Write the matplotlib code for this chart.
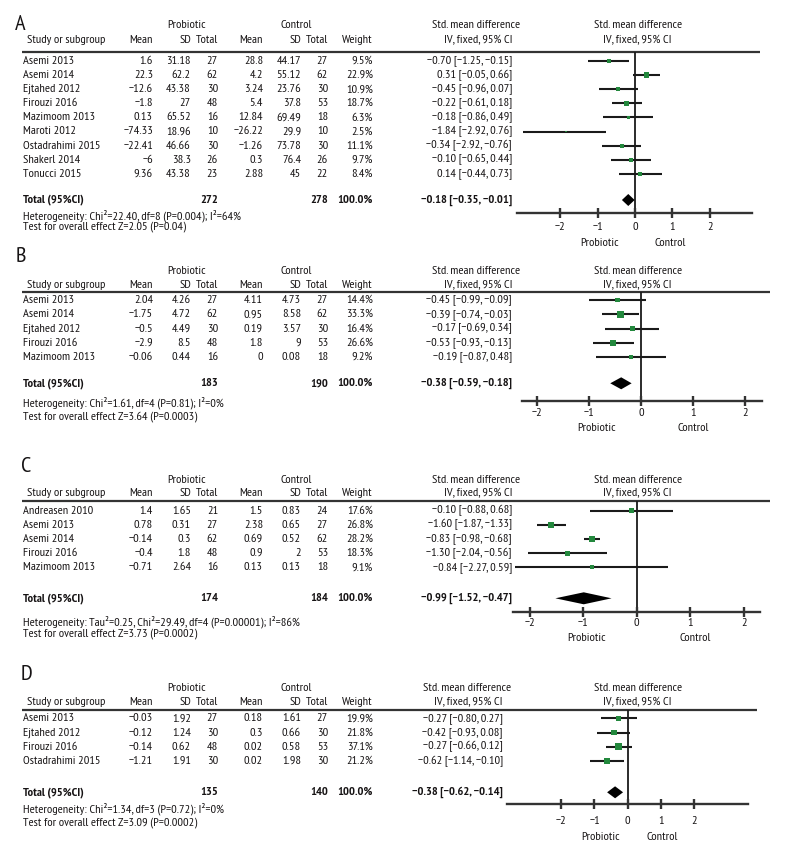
import matplotlib
matplotlib.use('Agg')
import matplotlib.pyplot as plt
from matplotlib import font_manager
import numpy as np

_avail = {f.name for f in font_manager.fontManager.ttflist}
FONT = 'DejaVu Sans'
for _cand in ['PT Sans Narrow', 'Roboto Condensed', 'Fira Sans Condensed', 'Archivo Narrow',
              'Liberation Sans Narrow', 'Sofia Sans Semi Condensed']:
    if _cand in _avail:
        FONT = _cand
        break
plt.rcParams['font.family'] = [FONT, 'DejaVu Sans']

W, H = 792, 864
TXT = '#161314'
GREEN = '#23883d'

# ---------------- Panel A ----------------
A_studies = ["Asemi 2013", "Asemi 2014", "Ejtahed 2012", "Firouzi 2016", "Mazimoom 2013",
             "Maroti 2012", "Ostadrahimi 2015", "Shakerl 2014", "Tonucci 2015"]
A_p_mean = [1.6, 22.3, -12.6, -1.8, 0.13, -74.33, -22.41, -6, 9.36]
A_p_sd = [31.18, 62.2, 43.38, 27, 65.52, 18.96, 46.66, 38.3, 43.38]
A_p_n = [27, 62, 30, 48, 16, 10, 30, 26, 23]
A_c_mean = [28.8, 4.2, 3.24, 5.4, 12.84, -26.22, -1.26, 0.3, 2.88]
A_c_sd = [44.17, 55.12, 23.76, 37.8, 69.49, 29.9, 73.78, 76.4, 45]
A_c_n = [27, 62, 30, 53, 18, 10, 30, 26, 22]
A_weight = [9.5, 22.9, 10.9, 18.7, 6.3, 2.5, 11.1, 9.7, 8.4]
A_ci_labels = ["−0.70 [−1.25, −0.15]", "0.31 [−0.05, 0.66]", "−0.45 [−0.96, 0.07]",
               "−0.22 [−0.61, 0.18]", "−0.18 [−0.86, 0.49]", "−1.84 [−2.92, 0.76]",
               "−0.34 [−2.92, −0.76]", "−0.10 [−0.65, 0.44]", "0.14 [−0.44, 0.73]"]
A_smd = [-0.70, 0.31, -0.45, -0.22, -0.18, -1.84, -0.34, -0.10, 0.14]
A_lo = [-1.25, -0.05, -0.96, -0.61, -0.86, -2.99, -0.88, -0.65, -0.44]
A_hi = [-0.15, 0.66, 0.07, 0.18, 0.49, -0.78, 0.17, 0.44, 0.73]
A_total = [272, 278]
A_total_smd = [-0.18, -0.35, -0.01]
A_total_label = "−0.18 [−0.35, −0.01]"
A_het = "Heterogeneity: Chi²=22.40, df=8 (P=0.004); I²=64%"
A_test = "Test for overall effect Z=2.05 (P=0.04)"

# ---------------- Panel B ----------------
B_studies = ["Asemi 2013", "Asemi 2014", "Ejtahed 2012", "Firouzi 2016", "Mazimoom 2013"]
B_p_mean = [2.04, -1.75, -0.5, -2.9, -0.06]
B_p_sd = [4.26, 4.72, 4.49, 8.5, 0.44]
B_p_n = [27, 62, 30, 48, 16]
B_c_mean = [4.11, 0.95, 0.19, 1.8, 0]
B_c_sd = [4.73, 8.58, 3.57, 9, 0.08]
B_c_n = [27, 62, 30, 53, 18]
B_weight = [14.4, 33.3, 16.4, 26.6, 9.2]
B_ci_labels = ["−0.45 [−0.99, −0.09]", "−0.39 [−0.74, −0.03]", "−0.17 [−0.69, 0.34]",
               "−0.53 [−0.93, −0.13]", "−0.19 [−0.87, 0.48]"]
B_smd = [-0.45, -0.39, -0.17, -0.53, -0.19]
B_lo = [-0.99, -0.74, -0.69, -0.93, -0.87]
B_hi = [0.09, -0.03, 0.34, -0.13, 0.48]
B_total = [183, 190]
B_total_smd = [-0.38, -0.59, -0.18]
B_total_label = "−0.38 [−0.59, −0.18]"
B_het = "Heterogeneity: Chi²=1.61, df=4 (P=0.81); I²=0%"
B_test = "Test for overall effect Z=3.64 (P=0.0003)"

# ---------------- Panel C ----------------
C_studies = ["Andreasen 2010", "Asemi 2013", "Asemi 2014", "Firouzi 2016", "Mazimoom 2013"]
C_p_mean = [1.4, 0.78, -0.14, -0.4, -0.71]
C_p_sd = [1.65, 0.31, 0.3, 1.8, 2.64]
C_p_n = [21, 27, 62, 48, 16]
C_c_mean = [1.5, 2.38, 0.69, 0.9, 0.13]
C_c_sd = [0.83, 0.65, 0.52, 2, 0.13]
C_c_n = [24, 27, 62, 53, 18]
C_weight = [17.6, 26.8, 28.2, 18.3, 9.1]
C_ci_labels = ["−0.10 [−0.88, 0.68]", "−1.60 [−1.87, −1.33]", "−0.83 [−0.98, −0.68]",
               "−1.30 [−2.04, −0.56]", "−0.84 [−2.27, 0.59]"]
C_smd = [-0.10, -1.60, -0.83, -1.30, -0.84]
C_lo = [-0.88, -1.87, -0.98, -2.04, -2.27]
C_hi = [0.68, -1.33, -0.68, -0.56, 0.59]
C_total = [174, 184]
C_total_smd = [-0.99, -1.52, -0.47]
C_total_label = "−0.99 [−1.52, −0.47]"
C_het = "Heterogeneity: Tau²=0.25, Chi²=29.49, df=4 (P=0.00001); I²=86%"
C_test = "Test for overall effect Z=3.73 (P=0.0002)"

# ---------------- Panel D ----------------
D_studies = ["Asemi 2013", "Ejtahed 2012", "Firouzi 2016", "Ostadrahimi 2015"]
D_p_mean = [-0.03, -0.12, -0.14, -1.21]
D_p_sd = [1.92, 1.24, 0.62, 1.91]
D_p_n = [27, 30, 48, 30]
D_c_mean = [0.18, 0.3, 0.02, 0.02]
D_c_sd = [1.61, 0.66, 0.58, 1.98]
D_c_n = [27, 30, 53, 30]
D_weight = [19.9, 21.8, 37.1, 21.2]
D_ci_labels = ["−0.27 [−0.80, 0.27]", "−0.42 [−0.93, 0.08]", "−0.27 [−0.66, 0.12]",
               "−0.62 [−1.14, −0.10]"]
D_smd = [-0.27, -0.42, -0.27, -0.62]
D_lo = [-0.80, -0.93, -0.66, -1.14]
D_hi = [0.27, 0.08, 0.12, -0.10]
D_total = [135, 140]
D_total_smd = [-0.38, -0.62, -0.14]
D_total_label = "−0.38 [−0.62, −0.14]"
D_het = "Heterogeneity: Chi²=1.34, df=3 (P=0.72); I²=0%"
D_test = "Test for overall effect Z=3.09 (P=0.0002)"

x_ticks = [-2, -1, 0, 1, 2]

# ---------------- layout (pixels) ----------------
COLS = [153, 191, 218, 263, 301, 328, 373]
LAYOUTS = {
    'A': dict(letter=(15, 25), hdr1=25, hdr2=40, line=52, row0=61, step=14.1, total=200,
              het=216, test=227, axis=213, x0=517, x1=752, zero=635, scale=37.4,
              line_x1=760, ci_right=512, tick_pad=3.3, dir_y=243, dir_x=(600, 670)),
    'B': dict(letter=(16, 257), hdr1=271, hdr2=285, line=292, row0=300, step=14.25, total=383.3,
              het=403, test=417, axis=400.7, x0=521.7, x1=761.7, zero=641, scale=52.1,
              line_x1=770, ci_right=512, tick_pad=2.0, dir_y=428, dir_x=(597, 693)),
    'C': dict(letter=(21, 467), hdr1=480, hdr2=493.3, line=501, row0=510.7, step=14.15, total=598.3,
              het=621.7, test=633.5, axis=612.3, x0=513, x1=760, zero=636.7, scale=53.5,
              line_x1=770, ci_right=512, tick_pad=0.6, dir_y=638, dir_x=(587, 695)),
    'D': dict(letter=(21, 674), hdr1=688.3, hdr2=701.7, line=710, row0=718.3, step=14.2, total=792.3,
              het=809, test=823, axis=804, x0=507.3, x1=748.3, zero=627.7, scale=33.2,
              line_x1=757, ci_right=503, tick_pad=5.3, dir_y=836.7, dir_x=(601, 662)),
}


def fmt(v):
    return str(v).replace('-', '−')


fig = plt.figure(figsize=(W / 100, H / 100), dpi=100)
tax = fig.add_axes([0, 0, 1, 1])
tax.set_xlim(0, W)
tax.set_ylim(H, 0)
tax.axis('off')

# fit the font size so a long line of text has about the reference width
_r = fig.canvas.get_renderer()
_t = tax.text(0, 0, A_test, fontsize=10)
_w = _t.get_window_extent(_r).width
_t.remove()
FS = max(6.0, min(12.0, 10 * 163.0 / _w))


def txt(x, y, s, ha='left', bold=False, size=None):
    tax.text(x, y, s, ha=ha, va='center', fontsize=size or FS, color=TXT,
             fontweight='bold' if bold else 'normal')


def draw_panel(letter, studies, p_mean, p_sd, p_n, c_mean, c_sd, c_n, weight, ci_labels,
               smd, lo, hi, total, total_smd, total_label, het, test):
    L = LAYOUTS[letter]
    txt(L['letter'][0], L['letter'][1], letter, size=FS * 1.8)
    txt(187, L['hdr1'], "Probiotic", ha='center')
    txt(296, L['hdr1'], "Control", ha='center')
    txt(27, L['hdr2'], "Study or subgroup")
    for x, s in zip(COLS, ["Mean", "SD", "Total", "Mean", "SD", "Total", "Weight"]):
        txt(x, L['hdr2'], s, ha='right')
    txt(L['ci_right'] + 8, L['hdr1'], "Std. mean difference", ha='right')
    txt(L['ci_right'], L['hdr2'], "IV, fixed, 95% CI", ha='right')
    txt(638, L['hdr1'], "Std. mean difference", ha='center')
    txt(637, L['hdr2'], "IV, fixed, 95% CI", ha='center')
    tax.plot([22, L['line_x1']], [L['line'], L['line']], color='#333333', lw=1.6,
             solid_capstyle='butt')
    for i, name in enumerate(studies):
        y = L['row0'] + i * L['step']
        txt(23, y, name)
        vals = [fmt(p_mean[i]), fmt(p_sd[i]), fmt(p_n[i]), fmt(c_mean[i]), fmt(c_sd[i]),
                fmt(c_n[i]), "%.1f%%" % weight[i]]
        for x, s in zip(COLS, vals):
            txt(x, y, s, ha='right')
        txt(L['ci_right'], y, ci_labels[i], ha='right')
    ty = L['total']
    txt(23, ty, "Total (95%CI)", bold=True)
    txt(COLS[2], ty, str(total[0]), ha='right', bold=True)
    txt(COLS[5], ty, str(total[1]), ha='right', bold=True)
    txt(COLS[6], ty, "100.0%", ha='right', bold=True)
    txt(L['ci_right'], ty, total_label, ha='right', bold=True)
    txt(23, L['het'], het)
    txt(23, L['test'], test)
    txt(L['dir_x'][0], L['dir_y'], "Probiotic", ha='center')
    txt(L['dir_x'][1], L['dir_y'], "Control", ha='center')

    # forest axes
    x0, x1, zero, sc = L['x0'], L['x1'], L['zero'], L['scale']
    fx = fig.add_axes([x0 / W, 1 - L['axis'] / H, (x1 - x0) / W, (L['axis'] - L['line']) / H])
    fx.patch.set_alpha(0)
    fx.set_xlim((x0 - zero) / sc, (x1 - zero) / sc)
    fx.set_ylim((L['axis'] - L['row0']) / L['step'], (L['line'] - L['row0']) / L['step'])
    ypos = np.arange(len(studies))
    fx.hlines(ypos, lo, hi, color='#1a1a1a', lw=1.5, clip_on=False, zorder=2)
    sizes = [(1.2 * np.sqrt(w) * 0.72) ** 2 for w in weight]
    fx.scatter(smd, ypos, s=sizes, marker='s', color=GREEN, linewidths=0, zorder=3,
               clip_on=False)
    yt = (ty - L['row0']) / L['step']
    hh = 6.0 / L['step']
    est, dlo, dhi = total_smd
    fx.fill([dlo, est, dhi, est], [yt, yt - hh, yt, yt + hh], color='black', lw=0, zorder=3)
    fx.axvline(0, color='#1a1a1a', lw=1.3, zorder=1)
    for s in ['top', 'left', 'right']:
        fx.spines[s].set_visible(False)
    fx.spines['bottom'].set_linewidth(1.7)
    fx.spines['bottom'].set_color('#333333')
    fx.set_yticks([])
    fx.set_xticks(x_ticks)
    fx.tick_params(axis='x', direction='inout', length=7, width=1.7, color='#333333',
                   labelsize=FS, labelcolor=TXT, pad=L['tick_pad'])


draw_panel('A', A_studies, A_p_mean, A_p_sd, A_p_n, A_c_mean, A_c_sd, A_c_n, A_weight,
           A_ci_labels, A_smd, A_lo, A_hi, A_total, A_total_smd, A_total_label, A_het, A_test)
draw_panel('B', B_studies, B_p_mean, B_p_sd, B_p_n, B_c_mean, B_c_sd, B_c_n, B_weight,
           B_ci_labels, B_smd, B_lo, B_hi, B_total, B_total_smd, B_total_label, B_het, B_test)
draw_panel('C', C_studies, C_p_mean, C_p_sd, C_p_n, C_c_mean, C_c_sd, C_c_n, C_weight,
           C_ci_labels, C_smd, C_lo, C_hi, C_total, C_total_smd, C_total_label, C_het, C_test)
draw_panel('D', D_studies, D_p_mean, D_p_sd, D_p_n, D_c_mean, D_c_sd, D_c_n, D_weight,
           D_ci_labels, D_smd, D_lo, D_hi, D_total, D_total_smd, D_total_label, D_het, D_test)

fig.savefig('out.png', dpi=100, facecolor='white')
